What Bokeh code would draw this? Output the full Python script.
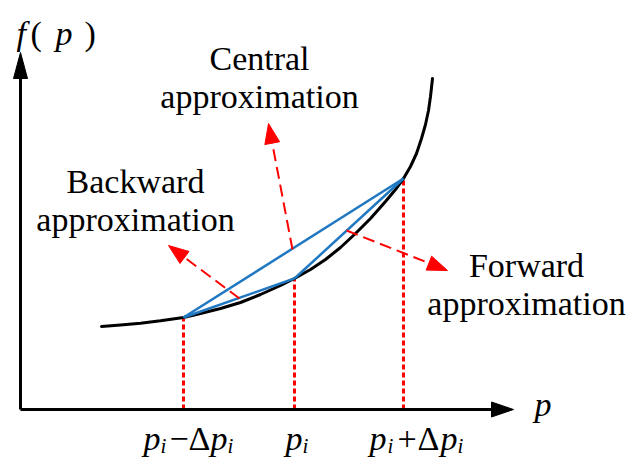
import math
from bokeh.plotting import figure
from bokeh.models import Range1d
from bokeh.core.properties import value
from bokeh.embed import file_html
from bokeh.resources import INLINE

# ---------------- data (origin at the axes' corner) ----------------
curve_p = [81, 100, 120, 140, 163, 180, 200, 220, 240, 260, 274, 290, 305, 320, 335,
           350, 365, 375, 383, 390, 396, 401, 405, 408, 410, 412]
curve_f = [83, 84.5, 86.3, 88.7, 92, 96, 101, 107, 115, 124, 131, 140, 150, 162, 176,
           191, 208, 220, 231, 243, 256, 271, 285, 299, 313, 331]

pts_p = [163, 274, 383]          # p_i-Δp_i, p_i, p_i+Δp_i
pts_f = [92, 131, 231]

x_axis_end = 493
y_axis_end = 357

arrow_names = ["Central", "Backward", "Forward"]
arrow_x0 = [272, 219, 326]
arrow_y0 = [160, 111, 179]
arrow_x1 = [248, 148, 427]
arrow_y1 = [286, 164, 139]

label_line1 = ["Central", "Backward", "Forward"]
label_line2 = ["approximation", "approximation", "approximation"]

tick_parts = [
    [("p", "it"), ("i", "sub"), ("\u2212", "n"), ("\u0394", "n"), ("p", "it"), ("i", "sub")],
    [("p", "it"), ("i", "sub")],
    [("p", "it"), ("i", "sub"), ("+", "n"), ("\u0394", "n"), ("p", "it"), ("i", "sub")],
]

# ---------------- layout / style ----------------
FONT = "Liberation Serif"
FS = "34px"
SUB_FS = "21px"
RED = "#ff0000"
BLUE = "#1f78c1"

label_x = [239, 115, 506]
label_y = [351, 228, 144]
line_gap = 38

tick_dx = [
    [-40, -23, -14, 5, 27, 44],
    [-9, 8],
    [-34, -16, -6, 14, 37, 54],
]
tick_base = -29
sub_drop = 7

p = figure(width=629, height=459, x_range=Range1d(-20, 609), y_range=Range1d(-50, 409),
           x_axis_type=None, y_axis_type=None, toolbar_location=None,
           output_backend="svg", min_border=0)
p.grid.visible = False
p.outline_line_color = None
p.background_fill_color = "white"


def head(x0, y0, x1, y1, L, Wd):
    dx, dy = x1 - x0, y1 - y0
    n = math.hypot(dx, dy)
    ux, uy = dx / n, dy / n
    bx, by = x1 - L * ux, y1 - L * uy
    nx, ny = -uy, ux
    xs = [x1, bx + Wd / 2 * nx, bx - Wd / 2 * nx]
    ys = [y1, by + Wd / 2 * ny, by - Wd / 2 * ny]
    return xs, ys, bx, by


# red dotted verticals
p.segment(x0=pts_p, y0=[0] * 3, x1=pts_p, y1=pts_f, line_color=RED, line_width=3, line_dash="5 3")

# curve
p.line(curve_p, curve_f, line_color="black", line_width=3, line_join="round", line_cap="round")

# blue chords
p.segment(x0=[pts_p[0], pts_p[0], pts_p[1]], y0=[pts_f[0], pts_f[0], pts_f[1]],
          x1=[pts_p[2], pts_p[1], pts_p[2]], y1=[pts_f[2], pts_f[1], pts_f[2]],
          line_color=BLUE, line_width=2.5)

# red dashed arrows
for x0, y0, x1, y1 in zip(arrow_x0, arrow_y0, arrow_x1, arrow_y1):
    xs, ys, bx, by = head(x0, y0, x1, y1, 20, 15)
    p.line([x0, bx], [y0, by], line_color=RED, line_width=2, line_dash="12 6")
    p.patch(xs, ys, fill_color=RED, line_color=RED, line_width=1)

# axes
p.line([0, 0], [0, y_axis_end - 20], line_color="black", line_width=3)
p.line([0, x_axis_end - 18], [0, 0], line_color="black", line_width=3)
xs, ys, _, _ = head(0, 0, 0, y_axis_end, 26, 14)
p.patch(xs, ys, fill_color="black", line_color="black")
xs, ys, _, _ = head(0, 0, x_axis_end, 0, 22, 15)
p.patch(xs, ys, fill_color="black", line_color="black")

# annotation labels
for t1, t2, x, y in zip(label_line1, label_line2, label_x, label_y):
    p.text(x=[x, x], y=[y, y - line_gap], text=[t1, t2], text_font=value(FONT),
           text_font_size=FS, text_align="center", text_baseline="alphabetic", text_color="black")

# f(p)
p.text(x=[-4, 35], y=[376, 376], text=["f", "p"], text_font=value(FONT), text_font_style="italic",
       text_font_size=FS, text_align="left", text_baseline="alphabetic")
p.text(x=[10, 64], y=[376, 376], text=["(", ")"], text_font=value(FONT),
       text_font_size=FS, text_align="left", text_baseline="alphabetic")

# p axis label
p.text(x=[514], y=[5], text=["p"], text_font=value(FONT), text_font_style="italic",
       text_font_size=FS, text_align="left", text_baseline="alphabetic")

# tick labels
for px_, parts, dxs in zip(pts_p, tick_parts, tick_dx):
    for (t, st), dx in zip(parts, dxs):
        if st == "sub":
            p.text(x=[px_ + dx], y=[tick_base - sub_drop], text=[t], text_font=value(FONT),
                   text_font_style="italic", text_font_size=SUB_FS, text_baseline="alphabetic")
        else:
            p.text(x=[px_ + dx], y=[tick_base], text=[t], text_font=value(FONT),
                   text_font_style="italic" if st == "it" else "normal",
                   text_font_size=FS, text_baseline="alphabetic")

open("out.html", "w").write(file_html(p, INLINE))
